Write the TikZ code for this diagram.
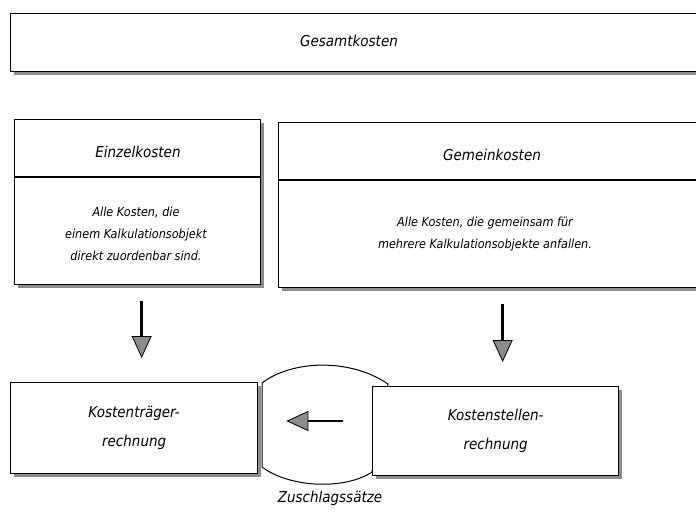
\documentclass[tikz,border=0pt]{standalone}
\usepackage{fontspec}
\setmainfont{DejaVu Sans Condensed}
\usetikzlibrary{arrows.meta,shadows}
\tikzset{
  box/.style={draw,line width=1.3pt,fill=white,
    drop shadow={shadow xshift=3.5pt,shadow yshift=-3.5pt,fill=black!45,opacity=1}},
  title/.style={font=\fontsize{15}{18}\selectfont\itshape,align=center},
  body/.style={font=\fontsize{12.5}{22}\selectfont\itshape,align=center},
  arr/.style={line width=2.5pt,-{Triangle[length=22pt,width=20pt,fill=black!45,line width=0.8pt]}}
}
\begin{document}
\begin{tikzpicture}[x=1pt,y=-1pt]
\useasboundingbox (0,0) rectangle (696,513);
\clip (0,0) rectangle (696,513);
% Verbindung der unteren Kästen
\draw[line width=1pt,fill=white] (262,383) .. controls (292,360) and (350,358) .. (388,384)
   -- (372,472) .. controls (345,490) and (290,488) .. (262,467) -- cycle;
\node[box,minimum width=700pt,minimum height=58pt,anchor=north west] (gesamt) at (10,13) {};
\node[title] (gesamttext) at (349,41) {Gesamtkosten};
% Einzelkosten
\node[box,minimum width=246pt,minimum height=165pt,anchor=north west] (einzel) at (14,119) {};
\draw[line width=1.3pt] ([yshift=-58pt]einzel.north west) -- ([yshift=-58pt]einzel.north east);
\node[title] (einzeltitel) at (138,152) {Einzelkosten};
\node[body] (einzeltext) at (136,234) {Alle Kosten, die\\einem Kalkulationsobjekt\\direkt zuordenbar sind.};
% Gemeinkosten
\node[box,minimum width=430pt,minimum height=165pt,anchor=north west] (gemein) at (278,122) {};
\draw[line width=1.3pt] ([yshift=-58pt]gemein.north west) -- ([yshift=-58pt]gemein.north east);
\node[title] (gemeintitel) at (492,155) {Gemeinkosten};
\node[body] (gemeintext) at (485,234) {Alle Kosten, die gemeinsam für\\mehrere Kalkulationsobjekte anfallen.};
% untere Reihe
\node[box,minimum width=247pt,minimum height=91pt,anchor=north west,
      title,font=\fontsize{15}{29}\selectfont\itshape] (traeger) at (10,382) {Kostenträger-\\rechnung};
\node[box,minimum width=246pt,minimum height=89pt,anchor=north west,
      title,font=\fontsize{15}{29}\selectfont\itshape] (stellen) at (372,386) {Kostenstellen-\\rechnung};
\node[title] (zuschlag) at (330,498) {Zuschlagssätze};
\coordinate (pfeilzeile) at (0,421);
\draw[arr,shorten <=16pt,shorten >=24pt] ([xshift=4pt]einzel.south) -- ([xshift=4pt]einzel.south |- traeger.north);
\draw[arr,shorten <=16pt,shorten >=24pt] ([xshift=7pt]stellen.north |- gemein.south) -- ([xshift=7pt]stellen.north);
\draw[arr,shorten <=29pt,shorten >=28pt] (stellen.west |- pfeilzeile) -- (traeger.east |- pfeilzeile);
\end{tikzpicture}
\end{document}
